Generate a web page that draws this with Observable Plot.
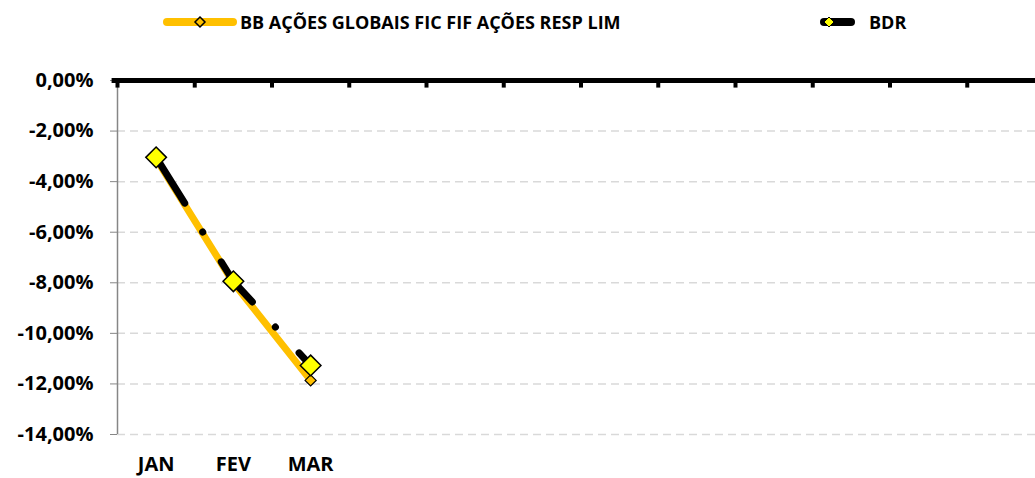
<!DOCTYPE html>
<html><head><meta charset="utf-8">
<script src="https://cdn.jsdelivr.net/npm/d3@7"></script>
<script src="https://cdn.jsdelivr.net/npm/@observablehq/plot@0.6"></script>
<style>
html,body{margin:0;padding:0;background:#fff;overflow:hidden;}
body{font-family:"Open Sans",sans-serif;width:1035px;height:478px;}
#legend{position:relative;height:45px;width:1035px;font-weight:700;font-size:18px;color:#000;}
#legend svg{position:absolute;top:0;left:0;}
#legend .t{position:absolute;top:9px;line-height:26px;white-space:nowrap;}
</style></head><body>
<div id="legend"></div>
<div id="chart"></div>
<script>
// ---- data ----
const monthLabels = ["JAN", "FEV", "MAR"];
const slotCount = 12; // category slots on the axis (JAN..DEZ)
const seriesNames = ["BB AÇÕES GLOBAIS FIC FIF AÇÕES RESP LIM", "BDR"];
const bbValues = [-0.0310, -0.0800, -0.1186];
const bdrValues = [-0.0304, -0.0794, -0.1127];
const yTicks = [0, -0.02, -0.04, -0.06, -0.08, -0.10, -0.12, -0.14];

const colors = {bb: "#FFC000", bdr: "#000000", bdrMarker: "#FFFF00", grid: "#D9D9D9", axis: "#868686"};

const bb = bbValues.map((v, i) => ({slot: i + 0.5, month: monthLabels[i], v}));
const bdr = bdrValues.map((v, i) => ({slot: i + 0.5, month: monthLabels[i], v}));
const slotBounds = d3.range(0, slotCount + 1);

const ptBR = d3.formatLocale({decimal: ",", thousands: ".", grouping: [3], currency: ["R$", ""], minus: "-", percent: "%"});
const pct = ptBR.format(".2%");

// ---- legend ----
const legend = document.getElementById("legend");
legend.innerHTML = `
<svg width="1035" height="45">
  <line x1="167" y1="22" x2="233" y2="22" stroke="${colors.bb}" stroke-width="8" stroke-linecap="round"/>
  <path d="M200,17 L205,22 L200,27 L195,22 Z" fill="${colors.bb}" stroke="#000" stroke-width="1.5"/>
  <line x1="824" y1="22" x2="851" y2="22" stroke="${colors.bdr}" stroke-width="8" stroke-linecap="round"/>
  <path d="M829,17 L834,22 L829,27 L824,22 Z" fill="${colors.bdrMarker}" stroke="#000" stroke-width="1"/>
</svg>
<div class="t" style="left:240px">${seriesNames[0]}</div>
<div class="t" style="left:869px">${seriesNames[1]}</div>`;

// ---- chart ----
const chart = Plot.plot({
  width: 1035,
  height: 433,
  marginTop: 35,
  marginBottom: 44,
  marginLeft: 117,
  marginRight: 0,
  style: {fontFamily: "Open Sans", background: "#fff", overflow: "hidden"},
  x: {domain: [0, slotCount], range: [117, 1044]},
  y: {domain: [-0.14, 0]},
  marks: [
    Plot.ruleY(yTicks.filter(t => t < 0), {x1: 0, x2: slotCount, stroke: colors.grid, strokeWidth: 1.5, strokeDasharray: "8,5"}),
    Plot.ruleX([0], {y1: -0.14, y2: 0, stroke: colors.axis, strokeWidth: 1.5}),
    Plot.axisY({ticks: yTicks, tickFormat: pct, tickSize: 7, tickPadding: 17, stroke: colors.axis, fill: "#000", fontSize: 20, fontWeight: "bold", label: null}),
    Plot.axisX({ticks: monthLabels.map((m, i) => i + 0.5), tickFormat: (d) => monthLabels[Math.floor(d)], tickSize: 0, tickPadding: 22, fontSize: 20, fontWeight: "bold", fill: "#000", label: null}),
    Plot.ruleY([0], {x1: -0.07, x2: slotCount, stroke: "#000", strokeWidth: 5}),
    Plot.ruleX(slotBounds, {y1: 0, y2: -0.003, stroke: "#000", strokeWidth: 4}),
    Plot.line(bb, {x: "slot", y: "v", stroke: colors.bb, strokeWidth: 7, strokeLinejoin: "round"}),
    Plot.line(bdr, {x: "slot", y: "v", stroke: colors.bdr, strokeWidth: 7, strokeLinecap: "round", strokeDasharray: "51,34,0.1,35", strokeDashoffset: -3}),
    Plot.dot(bb, {x: "slot", y: "v", symbol: "diamond2", r: 5, fill: colors.bb, stroke: "#000", strokeWidth: 1.2}),
    Plot.dot(bdr, {x: "slot", y: "v", symbol: "diamond2", r: 9.3, fill: colors.bdrMarker, stroke: "#000", strokeWidth: 1.5})
  ]
});
document.getElementById("chart").appendChild(chart);
</script>
</body></html>
